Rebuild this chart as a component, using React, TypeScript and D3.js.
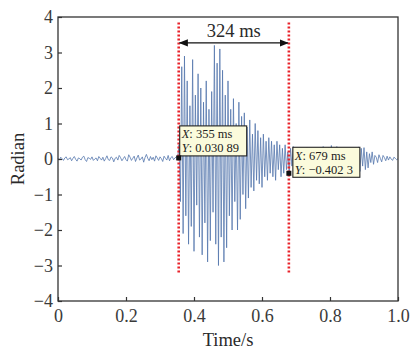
import * as d3 from "d3";
import React, { useRef, useEffect } from 'react'

// sampled phase signal, one value every 4 ms starting at t = 0
const step = 0.004
const preNoise = [
  0.02, -0.03, 0.05, 0.01, -0.04, 0.03, 0.06, -0.02, 0.00, 0.04,
  -0.05, 0.02, 0.07, -0.01, -0.06, 0.03, 0.01, -0.03, 0.05, 0.08,
  -0.02, -0.07, 0.04, 0.02, -0.01, 0.06, -0.04, 0.00, 0.03, -0.05,
  0.07, 0.02, -0.03, 0.05, -0.06, 0.01, 0.09, -0.02, -0.04, 0.06,
  0.03, -0.08, 0.02, 0.05, -0.03, 0.10, 0.04, -0.05, 0.01, 0.07,
  -0.02, -0.06, 0.12, 0.05, -0.04, 0.02, 0.08, -0.07, 0.03, 0.11,
  -0.03, 0.00, 0.06, -0.09, 0.04, 0.13, 0.02, -0.05, 0.07, -0.02,
  0.05, -0.06, 0.09, 0.03, -0.04, 0.06, 0.01, -0.07, 0.08, 0.02,
  -0.03, 0.10, -0.05, 0.04, 0.07, -0.02, 0.03, 0.06, 0.03,
]
const burst = [
  0.4, -1.2, 2.6, -2.1, 2.9, -1.6, 2.2, -2.4, 1.5, -1.9,
  2.8, -2.6, 1.8, -1.3, 2.4, -2.2, 2.0, -2.7, 1.6, -1.8,
  2.2, -2.9, 1.4, -2.3, 1.9, -1.5, 3.2, -2.4, 2.7, -3.0,
  3.1, -2.2, 2.5, -2.9, 1.8, -2.5, 2.2, -1.6, 1.4, -2.0,
  1.7, -1.2, 1.0, -2.0, 1.6, -1.7, 1.2, -1.0, 1.3, -1.4,
  0.9, -1.1, 1.1, -0.8, 0.7, -0.9, 1.0, -0.6, 0.8, -0.7,
  0.6, -0.8, 0.7, -0.5, 0.5, -0.6, 0.6, -0.4, 0.5, -0.5,
  0.4, -0.6, 0.5, -0.3, 0.4, -0.5, 0.3, -0.4, 0.4, -0.3,
  0.2,
]
const tail = [
  -0.40, 0.30, -0.20, 0.35, -0.30, 0.25, -0.35, 0.30, -0.20, 0.28,
  -0.30, 0.20, -0.25, 0.32, -0.28, 0.22, -0.30, 0.25, -0.20, 0.30,
  -0.35, 0.28, -0.22, 0.30, -0.30, 0.35, -0.25, 0.20, -0.30, 0.32,
  -0.20, 0.38, -0.32, 0.30, -0.40, 0.35, -0.28, 0.30, -0.25, 0.28,
  -0.25, 0.30, -0.22, 0.28, -0.30, 0.25, -0.20, 0.30, -0.28, 0.22,
  -0.30, 0.34, -0.35, 0.30, -0.20, 0.32, -0.30, 0.20, -0.25, 0.15,
  -0.10, 0.20, -0.15, 0.10, 0.05, -0.10, 0.12, 0.02, -0.08, 0.10,
  0.04, -0.05, 0.08, -0.03, 0.06, 0.00, -0.04, 0.05, 0.02, -0.02,
  0.01,
]
const signal = [...preNoise, ...burst, ...tail]

// data cursors
const cursorTimes = [0.355, 0.679]
const cursorValues = [0.03089, -0.4023]
const cursorXLabels = ["355 ms", "679 ms"]
const cursorYLabels = ["0.030 89", "\u22120.402 3"]
const cursorLineRange = [-3.2, 3.85]
const spanLevel = 3.27
const spanLabel = "324 ms"

const xTicks = [0, 0.2, 0.4, 0.6, 0.8, 1.0]
const yTicks = [-4, -3, -2, -1, 0, 1, 2, 3, 4]

const W = 414, H = 352
const m = { l: 58, r: 16, t: 17, b: 51 }
const serif = "'Liberation Serif', 'DejaVu Serif', serif"
const boxOffsets = [[1, -32], [4, -26]]

const App: React.FC = () => {
  const gx = useRef(null)
  const gy = useRef(null)

  const x = d3.scaleLinear([0, 1], [m.l, W - m.r])
  const y = d3.scaleLinear([-4, 4], [H - m.b, m.t])

  const line = d3.line<number>().x((_, i) => x(i * step)).y(d => y(d))

  useEffect(() => {
    if (gx.current) {
      const g = d3.select(gx.current as SVGGElement)
      g.call(d3.axisBottom(x).tickValues(xTicks).tickSizeInner(-4).tickSizeOuter(0).tickPadding(8)
        .tickFormat(d => (d === 0 ? "0" : d3.format(".1f")(d as number))))
      g.select(".domain").remove()
      g.selectAll("text").attr("font-family", serif).attr("font-size", 18).attr("fill", "#3a3a3a")
      g.selectAll("line").attr("stroke", "#333").attr("stroke-width", 1.2)
    }
  }, [gx])
  useEffect(() => {
    if (gy.current) {
      const g = d3.select(gy.current as SVGGElement)
      g.call(d3.axisLeft(y).tickValues(yTicks).tickSizeInner(-4).tickSizeOuter(0).tickPadding(5))
      g.select(".domain").remove()
      g.selectAll("text").attr("font-family", serif).attr("font-size", 18).attr("fill", "#3a3a3a")
      g.selectAll("line").attr("stroke", "#333").attr("stroke-width", 1.2)
    }
  }, [gy])

  const [t0, t1] = cursorTimes

  return (
    <div style={{ position: "absolute", left: 0, top: 0 }}>
      <svg width={W} height={H} style={{ display: "block", background: "#fff" }}>
        <defs>
          <marker id="ah" viewBox="0 0 10 10" refX="9" refY="5" markerWidth="7" markerHeight="7" orient="auto-start-reverse">
            <path d="M0,1 L10,5 L0,9 z" fill="#111" />
          </marker>
        </defs>
        <path d={line(signal) || ""} fill="none" stroke="#5577ad" strokeWidth={0.8} />
        <rect x={m.l} y={m.t} width={W - m.l - m.r} height={H - m.t - m.b} fill="none" stroke="#333" strokeWidth={1.3} />
        <g ref={gx} transform={`translate(0, ${H - m.b})`} />
        <g ref={gy} transform={`translate(${m.l}, 0)`} />

        {cursorTimes.map(t => (
          <line key={"c" + t} x1={x(t)} x2={x(t)} y1={y(cursorLineRange[0])} y2={y(cursorLineRange[1])}
            stroke="#e8232b" strokeWidth={2.6} strokeDasharray="2.2 1.8" />
        ))}

        <line x1={x(t0) + 1} x2={x(t1) - 1} y1={y(spanLevel)} y2={y(spanLevel)} stroke="#111" strokeWidth={1.3}
          markerStart="url(#ah)" markerEnd="url(#ah)" />
        <text x={(x(t0) + x(t1)) / 2} y={y(spanLevel) - 6} textAnchor="middle" fontFamily={serif} fontSize={18.5} fill="#2a2a2a">{spanLabel}</text>

        {cursorTimes.map((t, i) => {
          const px = x(t), py = y(cursorValues[i])
          const bx = px + boxOffsets[i][0], by = py + boxOffsets[i][1]
          return (
            <g key={"b" + t}>
              <rect x={bx} y={by} width={67} height={30} fill="#fbfbdc" stroke="#222" strokeWidth={1.1} />
              <text x={bx + 2} y={by + 12.5} fontFamily={serif} fontSize={12.5} fill="#222">
                <tspan fontStyle="italic">X</tspan>: {cursorXLabels[i]}
              </text>
              <text x={bx + 2} y={by + 26.5} fontFamily={serif} fontSize={12.5} fill="#222">
                <tspan fontStyle="italic">Y</tspan>: {cursorYLabels[i]}
              </text>
              <rect x={px - 2.5} y={py - 2.5} width={5} height={5} fill="#111" />
            </g>
          )
        })}

        <text transform={`translate(24, ${(m.t + H - m.b) / 2}) rotate(-90)`} textAnchor="middle" fontFamily={serif} fontSize={18.5} fill="#2a2a2a">Radian</text>
        <text x={(m.l + W - m.r) / 2} y={346} textAnchor="middle" fontFamily={serif} fontSize={18.5} fill="#2a2a2a">Time/s</text>
      </svg>
    </div>
  )
}

export default App
